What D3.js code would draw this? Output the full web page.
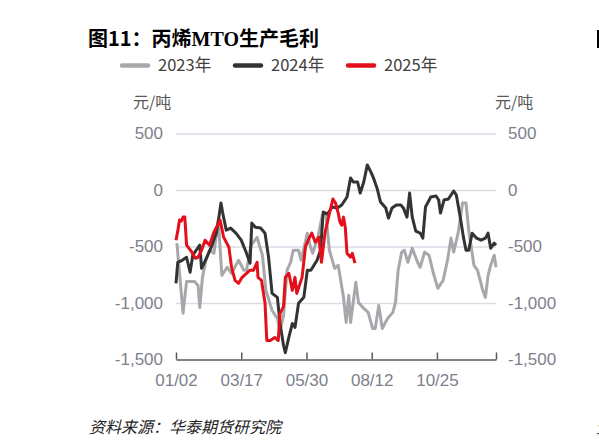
<!DOCTYPE html>
<html>
<head>
<meta charset="utf-8">
<script src="https://cdn.jsdelivr.net/npm/d3@7"></script>
<style>
  body { margin: 0; background: #fff; }
  svg { display: block; font-family: "Noto Sans CJK SC", "Noto Sans", sans-serif; }
</style>
</head>
<body>
<script>

// ---- data ----
var seriesNames = ["2023年", "2024年", "2025年"];

var dates2023 = ["01-03","01-10","01-14","01-19","01-23","01-27","01-29","02-01","02-05","02-09",
  "02-14","02-19","02-23","03-01","03-06","03-14","03-20","03-23","03-28","04-04",
  "04-10","04-14","04-21","04-27","04-30","05-04","05-08","05-12","05-15","05-21",
  "05-24","05-31","06-03","06-06","06-12","06-17","06-21","06-25","07-01","07-05",
  "07-11","07-14","07-17","07-19","07-25","07-28","08-03","08-08","08-13","08-16",
  "08-20","08-24","08-30","09-05","09-08","09-11","09-15","09-18","09-22","09-27",
  "10-03","10-06","10-11","10-16","10-21","10-26","11-01","11-06","11-10","11-13",
  "11-18","11-23","11-27","11-30","12-06","12-10","12-16","12-19","12-22","12-25",
  "12-29","12-31"];
var values2023 = [-470,-1090,-810,-810,-810,-845,-1040,-773,-620,-533,
  -560,-266,-755,-684,-737,-622,-710,-710,-490,-420,
  -577,-888,-1066,-1137,-1243,-1110,-710,-640,-533,-533,
  -622,-382,-488,-560,-417,-222,-204,-533,-693,-666,
  -950,-1172,-932,-1172,-817,-995,-1048,-1083,-1225,-1225,
  -1021,-1225,-1137,-1083,-995,-710,-550,-533,-640,-515,
  -640,-684,-550,-577,-737,-870,-800,-622,-426,-550,
  -382,-115,-115,-355,-666,-710,-888,-950,-755,-666,
  -577,-684];

var dates2024 = ["01-02","01-04","01-09","01-14","01-18","01-21","01-25","01-29","01-31","02-06",
  "02-11","02-17","02-20","02-22","02-24","02-28","03-05","03-11","03-17","03-23",
  "03-27","03-29","04-02","04-08","04-13","04-17","04-21","04-27","04-30","05-04",
  "05-06","05-10","05-14","05-17","05-21","05-27","05-31","06-04","06-11","06-15",
  "06-18","06-23","06-28","07-04","07-09","07-15","07-19","07-22","07-27","07-30",
  "08-03","08-07","08-11","08-14","08-18","08-22","08-28","08-31","09-04","09-09",
  "09-14","09-17","09-21","09-24","09-27","10-01","10-06","10-09","10-12","10-18",
  "10-24","10-27","10-29","11-02","11-07","11-13","11-16","11-21","11-24","11-27",
  "11-30","12-04","12-09","12-14","12-19","12-22","12-25","12-29","12-31"];
var values2024 = [-826,-640,-622,-595,-728,-577,-533,-488,-693,-595,
  -506,-373,-222,-115,-204,-355,-337,-382,-444,-560,
  -648,-293,-329,-337,-382,-595,-915,-950,-1181,-1376,
  -1439,-1305,-1181,-1217,-1003,-950,-710,-710,-622,-533,
  -195,-213,-151,-160,-133,-62,107,71,71,-27,
  71,222,160,107,18,-107,-160,-249,-160,-133,
  -133,-160,-240,-27,-240,-364,-382,-426,-151,-62,
  -53,-89,-204,-89,-80,-9,-44,-266,-417,-533,
  -533,-382,-426,-444,-426,-382,-515,-470,-488];

var dates2025 = ["01-02","01-04","01-06","01-08","01-10","01-12","01-14","01-20","01-24","01-27",
  "01-31","02-04","02-09","02-14","02-21","02-25","03-03","03-06","03-10","03-14",
  "03-18","03-23","03-27","03-31","04-04","04-05","04-09","04-13","04-15","04-19",
  "04-24","04-28","04-30","05-04","05-06","05-10","05-14","05-17","05-19","05-25",
  "05-29","06-01","06-05","06-09","06-13","06-16","06-20","06-24","06-29","07-02",
  "07-05","07-07","07-09","07-11","07-13","07-15","07-19","07-21","07-24"];
var values2025 = [-444,-364,-266,-275,-240,-240,-488,-550,-604,-595,
  -533,-444,-488,-373,-266,-417,-506,-684,-800,-826,
  -773,-737,-710,-710,-640,-773,-800,-1003,-1332,-1332,
  -1305,-1332,-1092,-1030,-773,-737,-888,-773,-915,-773,
  -497,-444,-382,-462,-417,-640,-382,-240,-80,-115,
  -204,-284,-311,-240,-329,-560,-595,-560,-648];

var xTickDates = ["01-02", "03-17", "05-30", "08-12", "10-25", "12-31"];
var xTickLabels = ["01/02", "03/17", "05/30", "08/12", "10/25", ""];
var yTickValues = [500, 0, -500, -1000, -1500];

// ---- setup ----
var width = 599, height = 448;
var colors = ["#a6a8ab", "#333333", "#e3101b"];

var parseDay = d3.timeParse("%Y-%m-%d");
function day(s) { return parseDay("2023-" + s); }

var fmt = d3.formatLocale({ decimal: ".", thousands: ",", grouping: [3], currency: ["", ""], minus: "-" }).format(",");

var svg = d3.select("body").append("svg")
    .attr("width", width)
    .attr("height", height);

var x = d3.scaleTime()
    .domain([day("01-02"), day("12-31")])
    .range([176, 496]);

var y = d3.scaleLinear()
    .domain([-1500, 500])
    .range([359.5, 133.5]);

// gridlines
svg.append("g")
    .attr("transform", "translate(176,0)")
    .call(d3.axisLeft(y).tickValues(yTickValues.slice(0, 4)).tickSize(-320).tickFormat(""))
    .call(function (g) {
        g.select(".domain").remove();
        g.selectAll("line").attr("stroke", "#d9dde6").attr("stroke-width", 1.3);
    });

// left / right value axes
function styleY(g) {
    g.select(".domain").remove();
    g.selectAll("text")
        .attr("fill", "#7d7f8c")
        .style("font-size", "17px");
}

svg.append("g")
    .attr("transform", "translate(176,0)")
    .call(d3.axisLeft(y).tickValues(yTickValues).tickSize(0).tickPadding(13).tickFormat(fmt))
    .call(styleY);

svg.append("g")
    .attr("transform", "translate(496,0)")
    .call(d3.axisRight(y).tickValues(yTickValues).tickSize(0).tickPadding(12).tickFormat(fmt))
    .call(styleY);

// x axis, ticks pointing up
svg.append("g")
    .attr("transform", "translate(0," + y(-1500) + ")")
    .call(d3.axisBottom(x)
        .tickValues(xTickDates.map(day))
        .tickSizeInner(-7)
        .tickSizeOuter(0)
        .tickPadding(14)
        .tickFormat(function (d, i) { return xTickLabels[i]; }))
    .call(function (g) {
        g.select(".domain").attr("stroke", "#595959").attr("stroke-width", 1.5);
        g.selectAll("line").attr("stroke", "#595959").attr("stroke-width", 1.5);
        g.selectAll("text").attr("fill", "#7d7f8c").style("font-size", "17px");
    });

// lines
var series = [
    { dates: dates2023, values: values2023 },
    { dates: dates2024, values: values2024 },
    { dates: dates2025, values: values2025 }
];

var line = d3.line()
    .x(function (d) { return x(d[0]); })
    .y(function (d) { return y(d[1]); });

series.forEach(function (s, i) {
    var pts = s.dates.map(function (dt, j) { return [day(dt), s.values[j]]; });
    svg.append("path")
        .datum(pts)
        .attr("fill", "none")
        .attr("stroke", colors[i])
        .attr("stroke-width", 3)
        .attr("stroke-linejoin", "round")
        .attr("d", line);
});

// title
var title = svg.append("text")
    .attr("x", 88)
    .attr("y", 46)
    .attr("fill", "#000")
    .style("font-size", "20px")
    .style("font-weight", "bold");
title.append("tspan").text("图11：丙烯");
title.append("tspan").style("font-family", "'Liberation Serif', serif").text("MTO");
title.append("tspan").text("生产毛利");

// legend
var legendX = [120, 233, 346];
var legend = svg.append("g").selectAll("g")
    .data(seriesNames)
    .enter().append("g")
    .attr("transform", function (d, i) { return "translate(" + legendX[i] + ",65.5)"; });

legend.append("line")
    .attr("x1", 2).attr("x2", 28)
    .attr("stroke", function (d, i) { return colors[i]; })
    .attr("stroke-width", 4.5)
    .attr("stroke-linecap", "round");

legend.append("text")
    .attr("x", 38)
    .attr("dy", "0.36em")
    .attr("fill", "#404040")
    .style("font-size", "16.5px")
    .text(function (d) { return d; });

// unit labels
svg.append("text")
    .attr("x", 133).attr("y", 102).attr("dy", "0.36em")
    .attr("fill", "#595959").style("font-size", "16px")
    .text("元/吨");
svg.append("text")
    .attr("x", 495).attr("y", 102).attr("dy", "0.36em")
    .attr("fill", "#595959").style("font-size", "16px")
    .text("元/吨");

// source note
svg.append("text")
    .attr("x", 89).attr("y", 427).attr("dy", "0.36em")
    .attr("fill", "#222").style("font-size", "16px").style("font-style", "italic")
    .text("资料来源：华泰期货研究院");

// bits of the neighbouring chart, cut off at the right edge
svg.append("rect")
    .attr("x", 597).attr("y", 30).attr("width", 4).attr("height", 18)
    .attr("fill", "#000");
svg.append("text")
    .attr("x", 596).attr("y", 427).attr("dy", "0.36em")
    .attr("fill", "#222").style("font-size", "16px").style("font-style", "italic")
    .text("资");

</script>
</body>
</html>
